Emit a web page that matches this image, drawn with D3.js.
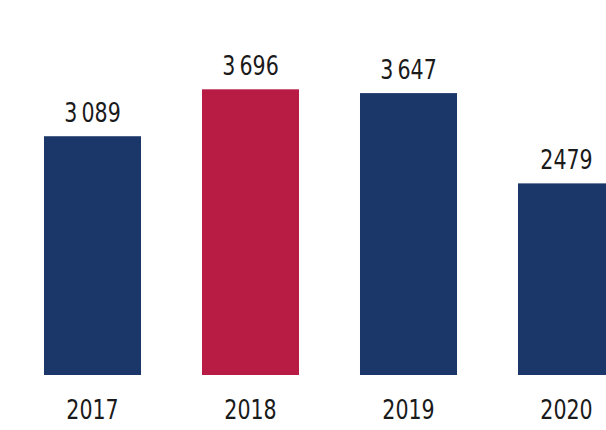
<!DOCTYPE html>
<html>
<head>
<meta charset="utf-8">
<script src="https://cdn.jsdelivr.net/npm/d3@7"></script>
<style>
  html, body { margin: 0; padding: 0; background: #ffffff; }
  svg { display: block; }
  text { font-family: "DejaVu Sans Condensed", "DejaVu Sans", sans-serif; }
</style>
</head>
<body>
<svg id="chart" width="606" height="430"></svg>
<script>
// Yearly totals
const years = ["2017", "2018", "2019", "2020"];
const values = [3089, 3696, 3647, 2479];
const valueLabels = ["3\u202f089", "3\u202f696", "3\u202f647", "2479"];
const highlightYear = "2018";

const navy = "#1b3668";
const crimson = "#b81b43";
const ink = "#1a1a1a";
const fontSize = 26;
const squeeze = 0.88; // narrow the glyphs horizontally

const svg = d3.select("#chart");
const baseline = 375;

const x = d3.scaleBand()
  .domain(years)
  .range([13.5, 645.5])
  .paddingInner(0.386)
  .paddingOuter(0.193);

const y = d3.scaleLinear()
  .domain([0, 3700])
  .range([baseline, 89]);

const rows = years.map((yr, i) => ({ year: yr, value: values[i], label: valueLabels[i] }));

// Bars
svg.append("g")
  .selectAll("rect")
  .data(rows)
  .join("rect")
  .attr("x", d => x(d.year))
  .attr("y", d => y(d.value))
  .attr("width", x.bandwidth())
  .attr("height", d => y(0) - y(d.value))
  .attr("fill", d => d.year === highlightYear ? crimson : navy);

// Value labels above bars
svg.append("g")
  .selectAll("text")
  .data(rows)
  .join("text")
  .attr("transform", d => `translate(${x(d.year) + x.bandwidth() / 2},${y(d.value) - 14}) scale(${squeeze},1)`)
  .attr("text-anchor", "middle")
  .attr("font-size", fontSize)
  .attr("fill", ink)
  .text(d => d.label);

// Year axis labels
const axis = d3.axisBottom(x).tickSize(0).tickPadding(0);
const axisG = svg.append("g")
  .attr("transform", `translate(0, ${baseline})`)
  .call(axis);
axisG.select(".domain").remove();
axisG.selectAll("text")
  .attr("y", 0)
  .attr("dy", 0)
  .attr("transform", `translate(0,44) scale(${squeeze},1)`)
  .attr("font-size", fontSize)
  .attr("font-family", "DejaVu Sans Condensed, DejaVu Sans, sans-serif")
  .attr("fill", ink);
</script>
</body>
</html>
